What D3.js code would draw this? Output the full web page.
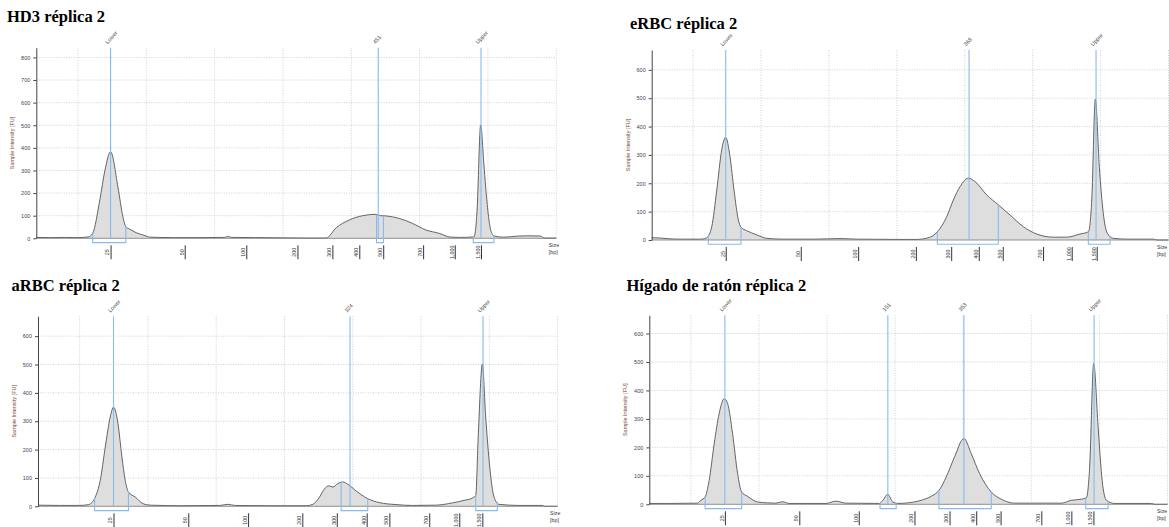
<!DOCTYPE html>
<html><head><meta charset="utf-8">
<script src="https://cdn.jsdelivr.net/npm/d3@7"></script>
<style>body{margin:0;background:#fff}svg{display:block}</style>
</head><body>
<svg id="c" width="1169" height="527"></svg>
<script>
// ---------- shared ----------
const sizeTickLabels = ["25","50","100","200","300","400","500","700","1,000","1,500"];
const migrationDomain = [43.9, 120];
const migrationGrid = [50,60,70,80,90,100,110,120];

// ---------- HD3 réplica 2 ----------
const hd3Title = "HD3 réplica 2";
const hd3TickPos = [54.77,65.62,74.63,82.12,87.23,91.17,94.67,100.51,105.14,108.98];
const hd3Time  = [43.9,46,48,50,51.5,52.15,53.2,53.94,54.77,55.84,56.57,57.0,57.6,58.5,59.8,60.5,64,68,71.46,71.9,72.5,76,80,84,86.3,87.8,89.7,91.65,93.6,93.94,94.3,95.07,97.0,98.95,100.9,102.85,104.55,106,107.96,108.4,108.93,109.4,109.66,110.4,110.9,112.3,114.5,116,117.7,118.2,120];
const hd3Value = [4,3,4,3,6,22,170,300,383,228,96,51,40,25,12,5,3,3,4,8,4,3,2,1,1,47,81,100,106,103,100,99,88,66,37,22,5,4,6,120,501,330,228,37,10,5,10,11,10,1,1];
const hd3Markers = ["Lower","451","Upper"];
const hd3MarkerPos = [54.77,93.94,108.98];
const hd3BracketFrom = [52.15,93.69,107.85];
const hd3BracketTo = [57.0,94.71,110.88];

// ---------- eRBC réplica 2 ----------
const ercTitle = "eRBC réplica 2";
const ercTickPos = [54.8,65.85,74.3,82.8,88.0,92.06,95.59,101.53,105.75,109.43];
const ercTime  = [43.9,45.13,46,48.07,51.3,52.0,52.74,53.48,54.21,54.8,55.43,56.02,56.66,57.05,57.89,59.37,60.84,63,68,71.63,74,80,82.93,84.89,85.96,87.34,88.32,89.3,90.52,91.51,93.23,94.94,96.67,98.62,100.6,103.04,105.01,106.97,108.2,108.7,109.23,109.81,110.4,110.99,111.88,113.85,117.77,118.3,120];
const ercValue = [8,7,5,3,3,8,47,176,318,362,294,176,71,45,33,18,6,3,3,5,3,2,2,10,29,82,141,188,218,206,159,124,88,47,21,10,10,21,29,141,497,259,94,24,6,3,3,0,0];
const ercMarkers = ["Lower","368","Upper"];
const ercMarkerPos = [54.8,90.63,109.33];
const ercBracketFrom = [52.24,85.96,108.2];
const ercBracketTo = [57.05,94.94,111.39];

// ---------- aRBC réplica 2 ----------
const arcTitle = "aRBC réplica 2";
const arcTickPos = [54.96,65.91,74.67,82.61,87.66,92.04,95.36,101.2,105.6,108.98];
const arcTime  = [43.9,47.18,50,51.31,52.29,53.02,53.75,54.48,54.96,55.61,56.19,56.67,57.15,58.13,59.3,60.32,65,70.54,71.71,72.73,78,83.2,84.16,85.14,85.87,86.5,87.08,87.81,88.54,89.27,90.5,92.19,93.9,96.34,98.76,102.18,104.6,106.31,107.52,108.01,108.39,108.98,109.47,110.06,110.69,111.42,114.34,117.74,118.1,120];
const arcValue = [4,3,3,6,33,92,209,315,350,292,174,92,50,33,9,4,2,3,7,3,2,2,7,33,62,72,68,80,86,78,54,27,13,6,3,4,12,21,29,39,256,501,315,139,33,7,3,3,0,0];
const arcMarkers = ["Lower","324","Upper"];
const arcMarkerPos = [54.96,89.6,109.08];
const arcBracketFrom = [52.19,88.3,108.01];
const arcBracketTo = [57.15,92.19,111.17];

// ---------- Hígado de ratón réplica 2 ----------
const livTitle = "Hígado de ratón réplica 2";
const livTickPos = [55.0,65.93,74.66,82.84,87.99,91.91,95.49,101.47,105.88,109.12];
const livTime  = [43.9,47.06,50.99,51.47,52.1,52.69,53.43,54.16,54.9,55.4,56.13,56.87,57.46,58.34,59.81,61.28,62.5,63.49,64.41,69.85,71.32,72.79,77.69,78.19,78.93,79.66,80.4,81.87,83.82,85.29,86.51,87.5,88.72,90.1,91.18,92.4,94.12,95.59,97.54,104.41,105.88,107.35,108.09,108.57,109.16,109.81,110.4,111.03,112.25,117.65,118.1,120];
const livValue = [3,3,4,14,26,84,213,319,371,354,248,108,43,28,8,5,4,9,3,3,11,4,3,14,35,8,3,5,14,28,51,96,166,231,178,108,43,18,4,4,14,18,23,131,495,272,84,14,3,3,0,0];
const livMarkers = ["Lower","151","353","Upper"];
const livMarkerPos = [55.0,78.93,90.1,109.22];
const livBracketFrom = [52.1,77.79,86.43,107.99];
const livBracketTo = [57.46,80.15,94.12,111.28];

// ---------- layout ----------
const panels = [
  {title:hd3Title, tx:7, ty:22, left:36.3, right:556.3, top:47.7, zeroY:238.3, yMax:843, yTop:800,
   tickPos:hd3TickPos, time:hd3Time, value:hd3Value, markers:hd3Markers, markerPos:hd3MarkerPos, bFrom:hd3BracketFrom, bTo:hd3BracketTo},
  {title:ercTitle, tx:630, ty:28.5, left:651.7, right:1168.5, top:50, zeroY:240, yMax:670, yTop:600,
   tickPos:ercTickPos, time:ercTime, value:ercValue, markers:ercMarkers, markerPos:ercMarkerPos, bFrom:ercBracketFrom, bTo:ercBracketTo},
  {title:arcTitle, tx:11.5, ty:291, left:38, right:557.6, top:316.3, zeroY:506.3, yMax:670, yTop:600,
   tickPos:arcTickPos, time:arcTime, value:arcValue, markers:arcMarkers, markerPos:arcMarkerPos, bFrom:arcBracketFrom, bTo:arcBracketTo},
  {title:livTitle, tx:626.5, ty:291, left:649.3, right:1167.5, top:315.3, zeroY:504.3, yMax:664, yTop:600,
   tickPos:livTickPos, time:livTime, value:livValue, markers:livMarkers, markerPos:livMarkerPos, bFrom:livBracketFrom, bTo:livBracketTo}
];

const svg = d3.select("#c");
const sans = "Liberation Sans, Arial, sans-serif";

function valueAt(cfg, t){
  const i = d3.bisectLeft(cfg.time, t);
  if (i <= 0) return cfg.value[0];
  if (i >= cfg.time.length) return cfg.value[cfg.value.length-1];
  const t0 = cfg.time[i-1], t1 = cfg.time[i];
  const f = (t - t0) / (t1 - t0);
  return cfg.value[i-1] + f * (cfg.value[i] - cfg.value[i-1]);
}

panels.forEach(cfg => {
  const g = svg.append("g");
  const x = d3.scaleLinear().domain(migrationDomain).range([cfg.left, cfg.right]);
  const y = d3.scaleLinear().domain([0, cfg.yMax]).range([cfg.zeroY, cfg.top]);
  const yTicks = d3.range(0, cfg.yTop + 1, 100);

  // title
  g.append("text").attr("x", cfg.tx).attr("y", cfg.ty)
    .attr("font-family", "Liberation Serif, Times New Roman, serif")
    .attr("font-weight", "bold").attr("font-size", 16.5).attr("fill", "#000")
    .text(cfg.title);

  // grid
  g.selectAll(".vg").data(migrationGrid).join("line")
    .attr("x1", d => x(d)).attr("x2", d => x(d))
    .attr("y1", cfg.top).attr("y2", cfg.zeroY)
    .attr("stroke", "#c4c4c4").attr("stroke-width", 0.8).attr("stroke-dasharray", "1,1.5");
  g.selectAll(".hg").data(yTicks.filter(d => d > 0)).join("line")
    .attr("x1", cfg.left).attr("x2", cfg.right)
    .attr("y1", d => y(d)).attr("y2", d => y(d))
    .attr("stroke", "#c4c4c4").attr("stroke-width", 0.8).attr("stroke-dasharray", "1,1.5");

  // electropherogram
  const pts = cfg.time.map((t, i) => [t, cfg.value[i]]);
  g.append("path").datum(pts)
    .attr("d", d3.area().x(d => x(d[0])).y0(y(0)).y1(d => y(d[1])).curve(d3.curveMonotoneX))
    .attr("fill", "#dedede");
  g.append("path").datum(pts)
    .attr("d", d3.line().x(d => x(d[0])).y(d => y(d[1])).curve(d3.curveMonotoneX))
    .attr("fill", "none").attr("stroke", "#555").attr("stroke-width", 0.9);

  // baseline
  g.append("line").attr("x1", cfg.left).attr("x2", cfg.right)
    .attr("y1", y(0)).attr("y2", y(0)).attr("stroke", "#777").attr("stroke-width", 0.8);

  // y axis
  const ya = g.append("g").attr("transform", `translate(${cfg.left},0)`)
    .call(d3.axisLeft(y).tickValues(yTicks).tickSize(3).tickSizeOuter(0).tickPadding(3));
  ya.select(".domain").attr("stroke", "#444").attr("stroke-width", 1);
  ya.selectAll(".tick line").attr("stroke", "#444");
  ya.selectAll("text").attr("font-family", sans).attr("font-size", 5.5).attr("fill", "#3a3f55");

  g.append("text")
    .attr("transform", `translate(${cfg.left - 22},${(cfg.top + cfg.zeroY) / 2}) rotate(-90)`)
    .attr("text-anchor", "middle").attr("font-family", sans).attr("font-size", 5.5)
    .attr("fill", "#7a4636").text("Sample Intensity [FU]");

  // x axis (size ladder)
  const xa = g.append("g").attr("transform", `translate(0,${cfg.zeroY + 7})`)
    .call(d3.axisBottom(x).tickValues(cfg.tickPos)
      .tickFormat((d, i) => sizeTickLabels[i]).tickSize(14).tickSizeOuter(0));
  xa.select(".domain").remove();
  xa.selectAll(".tick line").attr("stroke", "#333").attr("stroke-width", 1);
  xa.selectAll("text")
    .attr("x", 0).attr("y", 0).attr("dy", 0)
    .attr("transform", "translate(-1.6,7) rotate(-90)")
    .attr("text-anchor", "middle").attr("font-family", sans).attr("font-size", 5.3).attr("fill", "#333");

  const sizeX = Math.min(cfg.right - 7.5, 1157);
  g.append("text").attr("x", sizeX).attr("y", cfg.zeroY + 9)
    .attr("font-family", sans).attr("font-size", 5.3).attr("fill", "#333").text("Size");
  g.append("text").attr("x", sizeX).attr("y", cfg.zeroY + 16)
    .attr("font-family", sans).attr("font-size", 5.3).attr("fill", "#333").text("[bp]");

  // markers
  const blue = "#8ab9ee";
  g.selectAll(".mk").data(cfg.markerPos).join("line")
    .attr("x1", d => x(d)).attr("x2", d => x(d))
    .attr("y1", cfg.top).attr("y2", cfg.zeroY)
    .attr("stroke", blue).attr("stroke-width", 1.1);
  g.selectAll(".ml").data(cfg.markerPos).join("text")
    .attr("transform", d => `translate(${x(d) - 3},${cfg.top - 3.5}) rotate(-47)`)
    .attr("font-family", sans).attr("font-size", 5.5).attr("fill", "#444")
    .text((d, i) => cfg.markers[i]);
  g.selectAll(".br").data(cfg.bFrom).join("path")
    .attr("d", (d, i) => {
      const a = d, b = cfg.bTo[i];
      const yb = cfg.zeroY + 4.3;
      return `M${x(a)},${y(valueAt(cfg, a))}L${x(a)},${yb}L${x(b)},${yb}L${x(b)},${y(valueAt(cfg, b))}`;
    })
    .attr("fill", "none").attr("stroke", blue).attr("stroke-width", 1.1);
});
</script>
</body></html>
